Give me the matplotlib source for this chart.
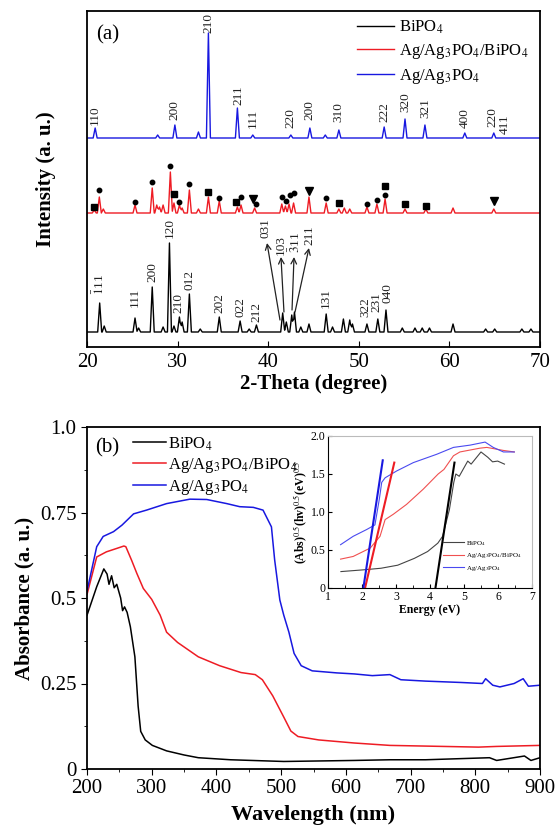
import numpy as np
import matplotlib
matplotlib.use("Agg")
import matplotlib.pyplot as plt

plt.rcParams['font.family'] = ['Liberation Serif', 'DejaVu Serif']
plt.rcParams['mathtext.fontset'] = 'stix'

# ---------------- panel (a): XRD peak lists (2-theta, height in a.u.) ----------------
bipo4_peaks = [(21.4, 29), (21.9, 6), (25.3, 14), (25.7, 4), (27.2, 45), (28.4, 5),
               (29.1, 89), (29.6, 6), (30.2, 15), (30.5, 10), (31.3, 38), (32.5, 3),
               (34.6, 15), (36.9, 11), (37.9, 3), (38.7, 7), (41.6, 19), (42.0, 10),
               (42.6, 17), (42.9, 20), (43.6, 5), (44.5, 8), (46.4, 18), (47.1, 5),
               (48.3, 13), (49.0, 12), (49.3, 8), (50.9, 8), (52.1, 13), (53.0, 22),
               (54.8, 4), (56.2, 4), (57.0, 4), (57.8, 4), (60.4, 8), (64.0, 3),
               (65.0, 3), (68.0, 3), (69.0, 3)]
composite_peaks = [(20.8, 3), (21.36, 16), (21.8, 4), (25.3, 8), (27.2, 25), (27.7, 8),
                   (28.0, 6), (28.4, 8), (29.2, 41), (29.6, 10), (30.2, 8), (30.5, 5),
                   (31.3, 23), (32.3, 4), (33.4, 16), (34.6, 12), (36.6, 6), (37.0, 8),
                   (38.5, 5), (41.5, 9), (41.9, 7), (42.3, 9), (42.8, 10), (44.5, 16),
                   (46.4, 10), (47.8, 4), (48.4, 5), (49.0, 4), (50.9, 6), (52.0, 9),
                   (52.9, 14), (55.1, 4), (57.4, 4), (60.4, 5), (64.9, 4)]
ag3po4_peaks = [(20.9, 10), (27.8, 3), (29.7, 13), (32.3, 6), (33.4, 105), (36.6, 30),
                (38.3, 3), (42.5, 3), (44.6, 10), (46.3, 3), (47.8, 8), (52.8, 11),
                (55.1, 19), (57.3, 13), (61.7, 5), (64.9, 5)]
offsets = {'bipo4': 15, 'composite': 134, 'ag3po4': 209}

# phase markers on the composite pattern: (2-theta, height, kind)
phase_marks = [(20.8, 140, 's'), (21.36, 157, 'o'), (25.3, 145, 'o'), (27.2, 165, 'o'),
               (29.2, 181, 'o'), (29.6, 153, 's'), (30.2, 145, 'o'), (31.3, 163, 'o'),
               (33.4, 155, 's'), (34.6, 149, 'o'), (36.5, 145, 's'), (37.0, 150, 'o'),
               (38.3, 148, 'v'), (38.7, 143, 'o'), (41.5, 150, 'o'), (42.0, 146, 'o'),
               (42.4, 152, 'o'), (42.9, 154, 'o'), (44.5, 156, 'v'), (46.4, 149, 'o'),
               (47.8, 144, 's'), (50.9, 143, 'o'), (52.0, 147, 'o'), (52.9, 152, 'o'),
               (52.9, 161, 's'), (55.1, 143, 's'), (57.4, 141, 's'), (64.9, 146, 'v')]

# hkl labels: (text, 2-theta, bottom height)
ag3po4_labels = [('110', 20.9, 222), ('200', 29.7, 227), ('210', 33.4, 314), ('211', 36.7, 242),
                 ('111', 38.3, 219), ('220', 42.5, 219), ('200', 44.6, 227), ('310', 47.8, 225),
                 ('222', 52.8, 225), ('320', 55.1, 235), ('321', 57.3, 229), ('400', 61.7, 219),
                 ('220', 64.8, 220), ('411', 66.1, 213)]
bipo4_labels = [(r'$\bar{1}$11', 21.4, 52), ('111', 25.3, 40), ('200', 27.2, 65), ('120', 29.1, 109),
                ('210', 30.1, 34), ('012', 31.3, 57), ('202', 34.6, 34), ('022', 36.9, 30),
                ('212', 38.7, 25), ('131', 46.4, 39), ('322', 50.7, 30), ('231', 51.9, 35),
                ('040', 53.2, 44)]
# arrow labels: (text, text x, text y, head x, head y, tail x, tail y)
arrow_labels = [('031', 39.7, 109, 39.87, 104, 41.3, 27),
                ('103', 41.4, 92, 41.41, 90, 41.74, 35),
                (r'$\bar{3}$11', 43.0, 94, 42.85, 90, 42.63, 37),
                ('211', 44.6, 102, 44.5, 99, 42.96, 35)]

# ---------------- panel (b): UV-vis absorbance ----------------
wl_bipo4 = [200, 201, 215, 226, 231, 234, 238, 242, 246, 252, 255, 258, 262, 267, 274, 279,
            283, 290, 301, 323, 350, 372, 422, 504, 613, 668, 723, 822, 833, 876, 886, 900]
abs_bipo4 = [0.45, 0.455, 0.533, 0.585, 0.57, 0.54, 0.565, 0.53, 0.54, 0.50, 0.463, 0.474,
             0.458, 0.416, 0.328, 0.184, 0.11, 0.085, 0.069, 0.053, 0.041, 0.033, 0.027,
             0.022, 0.025, 0.027, 0.027, 0.033, 0.025, 0.038, 0.025, 0.033]
wl_comp = [200, 215, 230, 246, 257, 260, 269, 277, 287, 300, 313, 323, 340, 372, 405, 438,
           460, 471, 487, 504, 515, 526, 558, 613, 668, 723, 805, 833, 900]
abs_comp = [0.51, 0.62, 0.635, 0.645, 0.652, 0.65, 0.61, 0.572, 0.528, 0.496, 0.45, 0.40,
            0.37, 0.328, 0.302, 0.282, 0.276, 0.261, 0.214, 0.152, 0.111, 0.095, 0.085,
            0.076, 0.069, 0.067, 0.064, 0.066, 0.069]
wl_ag = [200, 215, 225, 241, 254, 272, 292, 323, 359, 385, 416, 436, 457, 472, 485, 490,
         498, 504, 512, 520, 531, 548, 586, 613, 641, 668, 685, 723, 778, 811, 816, 827,
         838, 860, 874, 882, 900]
abs_ag = [0.52, 0.65, 0.68, 0.694, 0.713, 0.746, 0.757, 0.776, 0.789, 0.788, 0.776, 0.767,
          0.765, 0.757, 0.708, 0.611, 0.494, 0.45, 0.40, 0.338, 0.302, 0.287, 0.281, 0.278,
          0.273, 0.276, 0.261, 0.257, 0.253, 0.25, 0.264, 0.245, 0.24, 0.25, 0.264, 0.242, 0.245]

# inset: Tauc plot
e_bipo4 = [1.38, 2.07, 2.56, 3.05, 3.54, 3.93, 4.23, 4.37, 4.57, 4.70, 4.76, 4.86, 5.11,
           5.21, 5.50, 5.70, 5.84, 5.99, 6.19]
t_bipo4 = [0.216, 0.24, 0.26, 0.30, 0.39, 0.48, 0.59, 0.68, 1.03, 1.39, 1.50, 1.47, 1.67,
           1.63, 1.79, 1.72, 1.66, 1.67, 1.63]
e_comp = [1.37, 1.74, 2.24, 2.53, 2.68, 2.92, 3.31, 3.80, 4.24, 4.41, 4.69, 4.88, 5.47,
          5.67, 6.16, 6.48]
t_comp = [0.38, 0.415, 0.525, 0.68, 0.90, 0.97, 1.10, 1.30, 1.50, 1.56, 1.74, 1.79, 1.84,
          1.85, 1.81, 1.79]
e_ag = [1.37, 1.74, 2.14, 2.38, 2.51, 2.58, 2.68, 3.02, 3.51, 4.20, 4.69, 5.18, 5.62, 5.86,
        6.16, 6.48]
t_ag = [0.57, 0.68, 0.77, 0.83, 1.17, 1.39, 1.45, 1.54, 1.65, 1.76, 1.85, 1.88, 1.92, 1.85,
        1.79, 1.79]
# band-gap fit lines: (E at 0, E at top, top value)
fit_lines = {'k': (4.16, 4.72, 1.65), 'r': (2.09, 2.95, 1.65), 'b': (2.04, 2.61, 1.68)}

names = ['BiPO$_4$', 'Ag/Ag$_3$PO$_4$/BiPO$_4$', 'Ag/Ag$_3$PO$_4$']
colors = ['black', '#ee1c24', '#1818e0']


def pattern(peaks, base, grid):
    # sum of narrow triangular peaks on a flat baseline
    y = np.full_like(grid, float(base))
    for pos, h in peaks:
        y += np.interp(grid, [pos - 0.22, pos, pos + 0.22], [0, h, 0], left=0, right=0)
    return y


fig = plt.figure(figsize=(5.56, 8.26), dpi=100)
W, H = 556.0, 826.0

# ---------------- (a) ----------------
ax1 = fig.add_axes([87 / W, (H - 347) / H, 453 / W, 336 / H])
grid = np.arange(20, 70.001, 0.02)
ax1.plot(grid, pattern(bipo4_peaks, offsets['bipo4'], grid), color=colors[0], lw=1.0, label=names[0])
ax1.plot(grid, pattern(composite_peaks, offsets['composite'], grid), color=colors[1], lw=1.0, label=names[1])
ax1.plot(grid, pattern(ag3po4_peaks, offsets['ag3po4'], grid), color=colors[2], lw=1.0, label=names[2])

mk_size = {'o': 3.2, 's': 4.2, 'v': 5.5}
for x, y, kind in phase_marks:
    ax1.plot(x, y, marker=kind, color='black', ms=mk_size[kind], ls='none')

for txt, x, y in ag3po4_labels + bipo4_labels:
    ax1.text(x, y, txt, rotation=90, ha='center', va='bottom', fontsize=9.5, color='#222222')
for txt, tx, ty, hx, hy, sx, sy in arrow_labels:
    ax1.text(tx, ty, txt, rotation=90, ha='center', va='bottom', fontsize=9.5, color='#222222')
    ax1.annotate('', xy=(hx, hy), xytext=(sx, sy),
                 arrowprops=dict(arrowstyle='->', color='#222222', lw=0.9, shrinkA=0, shrinkB=0))

ax1.text(21.0, 312, '(a)', fontsize=15, va='center')
ax1.set_xlim(20, 70)
ax1.set_ylim(0, 336)
ax1.set_yticks([])
ax1.set_xticks([20, 30, 40, 50, 60, 70])
ax1.tick_params(axis='x', direction='in', length=4, labelsize=15, pad=4)
ax1.set_xlabel('2-Theta (degree)', fontsize=15, fontweight='bold', labelpad=2)
ax1.set_ylabel('Intensity (a. u.)', fontsize=15, fontweight='bold', labelpad=22)
for s in ax1.spines.values():
    s.set_linewidth(1.3)
ax1.legend(loc='upper right', bbox_to_anchor=(1.0, 1.012), frameon=False, fontsize=12,
           handlelength=2.2, handletextpad=0.3, labelspacing=0.35, borderaxespad=0.3)

# ---------------- (b) ----------------
ax2 = fig.add_axes([87 / W, (H - 769) / H, 453 / W, 342 / H])
ax2.plot(wl_bipo4, abs_bipo4, color=colors[0], lw=1.1, label=names[0])
ax2.plot(wl_comp, abs_comp, color=colors[1], lw=1.1, label=names[1])
ax2.plot(wl_ag, abs_ag, color=colors[2], lw=1.1, label=names[2])
ax2.set_xlim(200, 900)
ax2.set_ylim(0, 1.0)
ax2.set_xticks(range(200, 901, 100))
ax2.set_xticks(range(250, 900, 100), minor=True)
ax2.set_yticks([0, 0.25, 0.5, 0.75, 1.0])
ax2.set_yticklabels(['0', '0.25', '0.5', '0.75', '1.0'])
ax2.set_yticks([0.125, 0.375, 0.625, 0.875], minor=True)
ax2.tick_params(which='major', direction='out', length=4, labelsize=15)
ax2.tick_params(which='minor', direction='out', length=2.5)
ax2.set_xlabel('Wavelength (nm)', fontsize=16, fontweight='bold', labelpad=5)
ax2.set_ylabel('Absorbance (a. u.)', fontsize=15, fontweight='bold', labelpad=4)
for s in ax2.spines.values():
    s.set_linewidth(1.3)
ax2.text(212, 0.94, '(b)', fontsize=15, va='center')
ax2.legend(loc='upper left', bbox_to_anchor=(0.075, 1.01), frameon=False, fontsize=12,
           handlelength=2.0, handletextpad=0.15, labelspacing=0.2, borderaxespad=0.3)

# ---------------- inset ----------------
ins = fig.add_axes([328 / W, (H - 588) / H, 204 / W, 152 / H])
ins.plot(e_bipo4, t_bipo4, color='#444444', lw=0.8, label=names[0])
ins.plot(e_comp, t_comp, color='#f05050', lw=0.8, label=names[1])
ins.plot(e_ag, t_ag, color='#4a4af0', lw=0.8, label=names[2])
for c, (e0, e1, top) in fit_lines.items():
    col = {'k': 'black', 'r': '#ee1c24', 'b': '#1818e0'}[c]
    ins.plot([e0, e1], [0, top], color=col, lw=1.5)
ins.set_xlim(1, 7)
ins.set_ylim(0, 2.0)
ins.set_xticks(range(1, 8))
ins.set_xticks(np.arange(1.5, 7, 1.0), minor=True)
ins.set_yticks([0, 0.5, 1.0, 1.5, 2.0])
ins.set_yticklabels(['0', '0.5', '1.0', '1.5', '2.0'])
ins.tick_params(which='major', direction='in', length=3, labelsize=8.5, pad=2)
ins.tick_params(which='minor', direction='in', length=2)
ins.spines['top'].set_color('#bbbbbb')
ins.spines['right'].set_color('#bbbbbb')
ins.set_xlabel('Energy (eV)', fontsize=8.5, fontweight='bold', labelpad=1)
ins.set_ylabel(r'(Abs)$^{0.5}$(hv)$^{0.5}$(eV)$^{0.5}$', fontsize=8.5, fontweight='bold', labelpad=1)
ins.legend(loc='lower right', bbox_to_anchor=(0.98, 0.06), frameon=False, fontsize=5,
           handlelength=3.0, handletextpad=0.3, labelspacing=0.5)

fig.savefig('out.png', dpi=100)
